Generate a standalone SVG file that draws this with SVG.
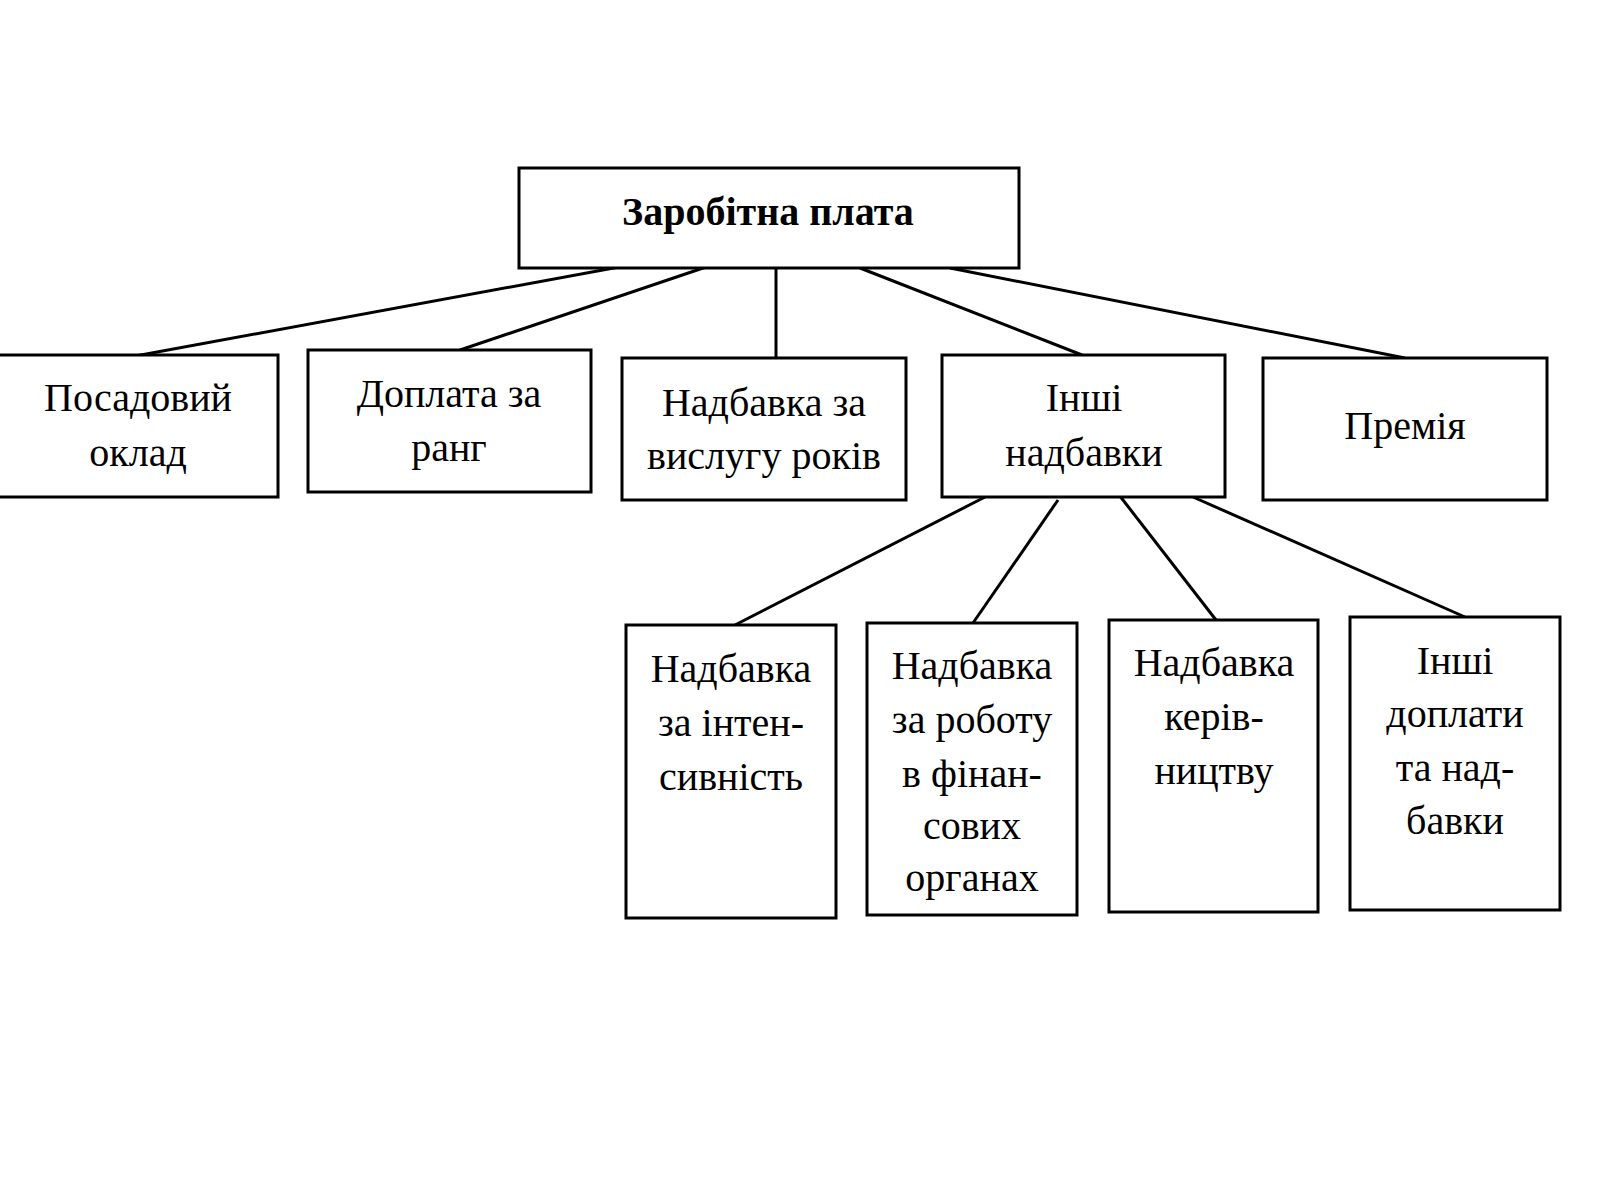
<svg xmlns="http://www.w3.org/2000/svg" width="1600" height="1200" viewBox="0 0 1600 1200">
<style>
rect{fill:#fff;stroke:#000;stroke-width:3}
line{stroke:#000;stroke-width:3}
text{font-family:"Liberation Serif",serif;font-size:40px;text-anchor:middle;fill:#000}
.b{font-weight:bold}
</style>
<rect x="0" y="0" width="1600" height="1200" style="stroke:none"/>
<g id="connectors">
<line x1="630" y1="265" x2="130" y2="357"/>
<line x1="712" y1="265" x2="460" y2="350"/>
<line x1="776" y1="265" x2="776" y2="358"/>
<line x1="860" y1="268" x2="1082" y2="355"/>
<line x1="950" y1="268" x2="1405" y2="358"/>
<line x1="985" y1="497" x2="735" y2="625"/>
<line x1="1058" y1="500" x2="973" y2="623"/>
<line x1="1116" y1="491" x2="1216" y2="620"/>
<line x1="1193" y1="497" x2="1465" y2="617"/>
</g>
<g id="root"><rect x="519" y="168" width="500" height="100"/><text class="b" x="768" y="225">Заробітна плата</text></g>
<g id="n1"><rect x="-2" y="355" width="280" height="142"/><text x="138" y="411">Посадовий</text><text x="138" y="466">оклад</text></g>
<g id="n2"><rect x="308" y="350" width="283" height="142"/><text x="449" y="407">Доплата за</text><text x="449" y="461">ранг</text></g>
<g id="n3"><rect x="622" y="358" width="284" height="142"/><text x="764" y="416">Надбавка за</text><text x="764" y="469">вислугу років</text></g>
<g id="n4"><rect x="942" y="355" width="283" height="142"/><text x="1084" y="411">Інші</text><text x="1084" y="466">надбавки</text></g>
<g id="n5"><rect x="1263" y="358" width="284" height="142"/><text x="1405" y="439">Премія</text></g>
<g id="a"><rect x="626" y="625" width="210" height="293"/><text x="731" y="682">Надбавка</text><text x="731" y="736">за інтен-</text><text x="731" y="790">сивність</text></g>
<g id="b"><rect x="867" y="623" width="210" height="292"/><text x="972" y="679">Надбавка</text><text x="972" y="733">за роботу</text><text x="972" y="787">в фінан-</text><text x="972" y="839">сових</text><text x="972" y="891">органах</text></g>
<g id="c"><rect x="1109" y="620" width="209" height="292"/><text x="1214" y="676">Надбавка</text><text x="1214" y="730">керів-</text><text x="1214" y="784">ництву</text></g>
<g id="d"><rect x="1350" y="617" width="210" height="293"/><text x="1455" y="674">Інші</text><text x="1455" y="727">доплати</text><text x="1455" y="781">та над-</text><text x="1455" y="834">бавки</text></g>
</svg>
